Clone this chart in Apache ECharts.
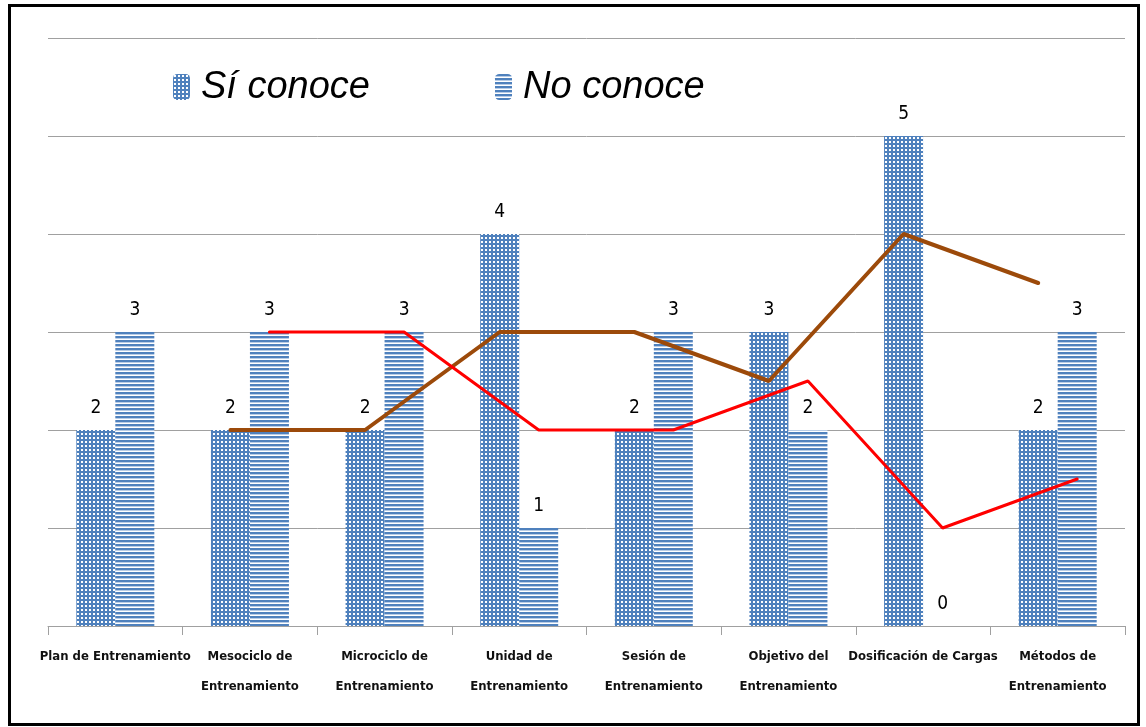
<!DOCTYPE html>
<html>
<head>
<meta charset="utf-8">
<script src="https://cdn.jsdelivr.net/npm/echarts@6/dist/echarts.min.js"></script>
<style>html,body{margin:0;padding:0;background:#fff}#c{width:1146px;height:727px}</style>
</head>
<body>
<div id="c"></div>
<script>
var categories = ['Plan de Entrenamiento', 'Mesociclo de\nEntrenamiento', 'Microciclo de\nEntrenamiento', 'Unidad de\nEntrenamiento', 'Sesión de\nEntrenamiento', 'Objetivo del\nEntrenamiento', 'Dosificación de Cargas', 'Métodos de\nEntrenamiento'];
var siConoce = [2, 2, 2, 4, 2, 3, 5, 2];
var noConoce = [3, 3, 3, 1, 3, 2, 0, 3];
// moving-average trend lines
var trendSi = [null, 2, 2, 3, 3, 2.5, 4, 3.5];
var trendNo = [null, 3, 3, 2, 2, 2.5, 1, 1.5];
var yTicks = [0, 1, 2, 3, 4, 5, 6];

function makeTile(kind) {
  var c = document.createElement('canvas');
  c.width = 4; c.height = 4;
  var g = c.getContext('2d');
  g.fillStyle = '#4f81bd';
  g.fillRect(0, 0, 4, 4);
  if (kind === 'dots') {
    g.fillStyle = '#ffffff';
    g.fillRect(1, 1, 2, 2);
  } else {
    g.fillStyle = '#b8cce6';
    g.fillRect(0, 2, 4, 1);
    g.fillStyle = '#ffffff';
    g.fillRect(0, 3, 4, 1);
  }
  return {image: c, repeat: 'repeat'};
}
var dotPat = makeTile('dots');
var stripePat = makeTile('stripes');

var chart = echarts.init(document.getElementById('c'));
var narrow = "'Liberation Sans Narrow','DejaVu Sans Condensed',sans-serif";
var labelFont = {show: true, position: 'top', distance: 12, color: '#000', fontSize: 19, fontFamily: narrow};
var T = 38, B = 101, L = 48, R = 21, HALF = 19.5;
var yBase = {type: 'value', min: 0, max: yTicks[yTicks.length - 1], interval: 1, axisLabel: {show: false}, axisLine: {show: false}, axisTick: {show: false}};
chart.setOption({
  animation: false,
  graphic: [{type: 'rect', shape: {x: 9.5, y: 5.5, width: 1129, height: 719}, style: {fill: 'none', stroke: '#000', lineWidth: 3}, z: 100}],
  legend: {
    data: ['Sí conoce', 'No conoce'],
    left: 168, top: 63,
    itemWidth: 17, itemHeight: 26, itemGap: 125,
    textStyle: {fontSize: 38, fontStyle: 'italic', fontFamily: "'Liberation Sans',Arial,sans-serif", color: '#000', padding: [10, 0, 0, 6]}
  },
  grid: [
    {left: L, right: R, top: T, bottom: B},
    {left: L - HALF, right: R + HALF, top: T, bottom: B},
    {left: L + HALF, right: R - HALF, top: T, bottom: B}
  ],
  xAxis: [
    {type: 'category', gridIndex: 0, data: categories,
      axisLine: {lineStyle: {color: '#a0a0a0', width: 1}},
      axisTick: {show: true, length: 9, lineStyle: {color: '#a0a0a0'}},
      axisLabel: {interval: 0, margin: 16, lineHeight: 30, color: '#111', fontSize: 13, fontWeight: 'bold', fontFamily: narrow}},
    {type: 'category', gridIndex: 1, data: categories, show: false},
    {type: 'category', gridIndex: 2, data: categories, show: false}
  ],
  yAxis: [
    Object.assign({gridIndex: 0, splitLine: {lineStyle: {color: '#a0a0a0', width: 1}}}, yBase),
    Object.assign({gridIndex: 1, splitLine: {show: false}}, yBase),
    Object.assign({gridIndex: 2, splitLine: {show: false}}, yBase)
  ],
  series: [
    {name: 'Sí conoce', type: 'bar', xAxisIndex: 0, yAxisIndex: 0, data: siConoce, barWidth: 39, barGap: '0%', itemStyle: {color: dotPat}, label: labelFont},
    {name: 'No conoce', type: 'bar', xAxisIndex: 0, yAxisIndex: 0, data: noConoce, barWidth: 39, barGap: '0%', itemStyle: {color: stripePat}, label: labelFont},
    {name: 'Tendencia Sí', type: 'line', xAxisIndex: 1, yAxisIndex: 1, data: trendSi, symbol: 'none', lineStyle: {color: '#9c4a0a', width: 4, cap: 'round'}, z: 5},
    {name: 'Tendencia No', type: 'line', xAxisIndex: 2, yAxisIndex: 2, data: trendNo, symbol: 'none', lineStyle: {color: '#ff0000', width: 3, cap: 'round'}, z: 6}
  ]
});
</script>
</body>
</html>
